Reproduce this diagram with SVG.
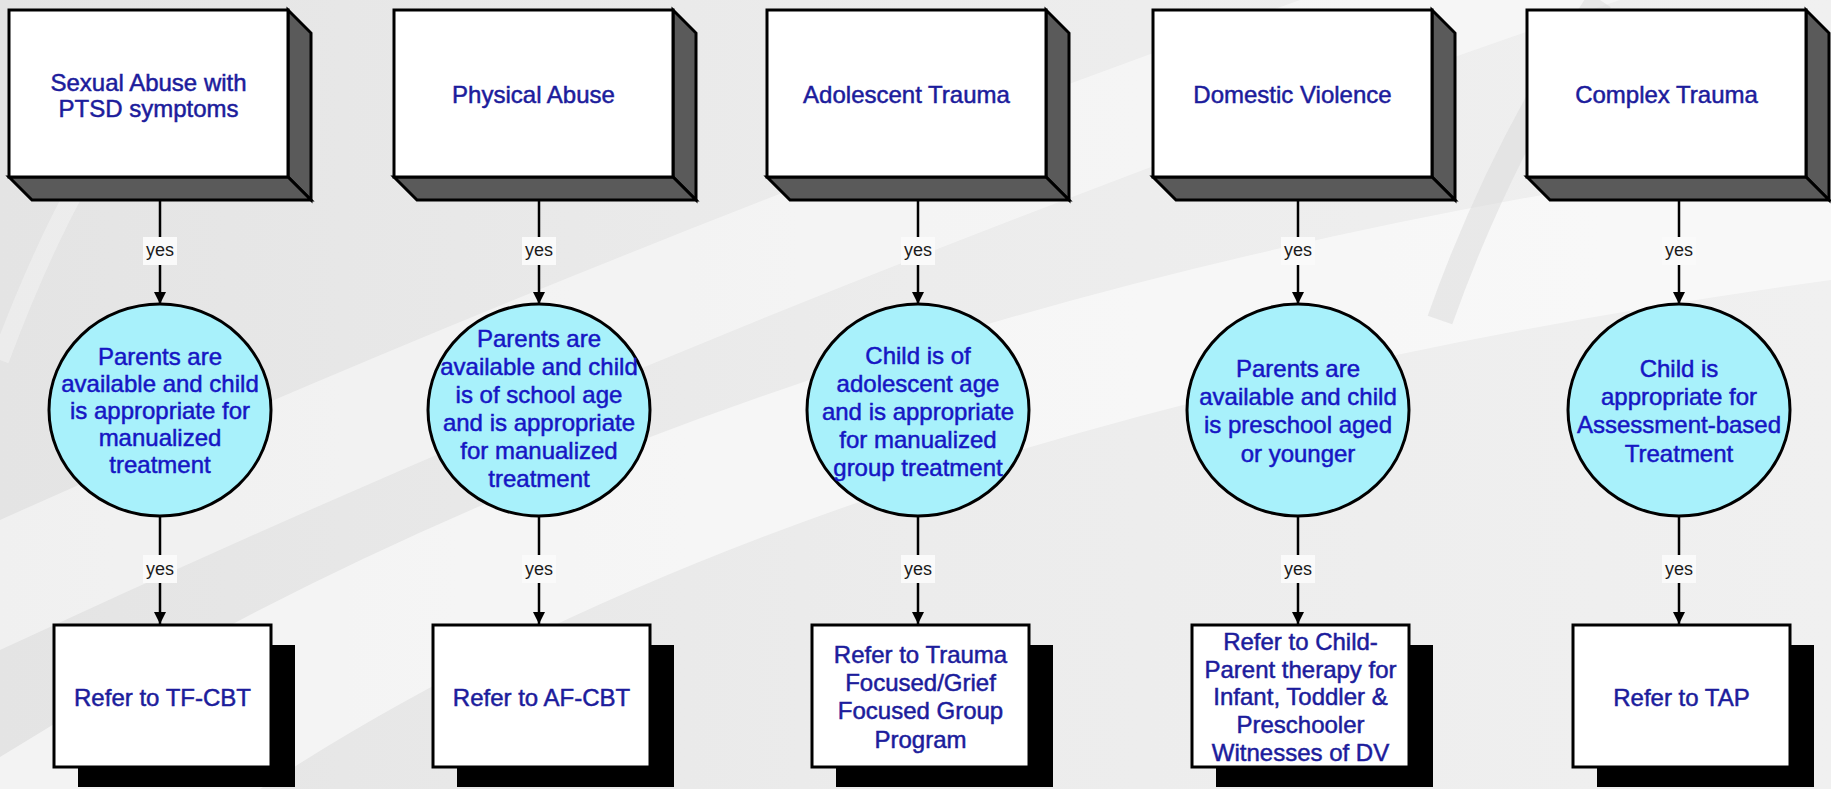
<svg xmlns="http://www.w3.org/2000/svg" width="1831" height="789" viewBox="0 0 1831 789">
<style>
.front{fill:#fff;stroke:#000;stroke-width:3}
.ext{fill:#5a5a5a;stroke:#000;stroke-width:3;stroke-linejoin:miter}
.dec{fill:#a8f1fb;stroke:#000;stroke-width:3}
.shadow{fill:#000}
.ref{fill:#fff;stroke:#000;stroke-width:3}
.t{font-family:"Liberation Sans",Arial,sans-serif;font-size:24px;text-anchor:middle;stroke-width:0.5}
.tb{fill:#1c1c9c;stroke:#1c1c9c}
.tc{fill:#1616c4;stroke:#1616c4}
.lbl{font-family:"Liberation Sans",Arial,sans-serif;font-size:18px;fill:#1a1a1a;text-anchor:middle}
.lblbg{fill:#fafafa}
.conn{stroke:#000;stroke-width:2.5;fill:none;marker-end:url(#arr)}
</style>
<defs>
<marker id="arr" viewBox="0 0 12 12" refX="12" refY="6" markerWidth="12" markerHeight="12" markerUnits="userSpaceOnUse" orient="auto">
<path d="M0,0 L12,6 L0,12 Z" fill="#000"/>
</marker>
<linearGradient id="bg" x1="0" y1="0" x2="1" y2="0">
<stop offset="0" stop-color="#e4e4e4"/>
<stop offset="0.5" stop-color="#ececec"/>
<stop offset="1" stop-color="#f0f0f0"/>
</linearGradient>
</defs>

<g id="background">
<rect x="0" y="0" width="1831" height="789" fill="url(#bg)"/>
<path d="M-50,789 Q700,300 1831,150 L1831,280 Q820,420 260,789 Z" fill="#fff" opacity="0.55"/>
<path d="M0,520 Q600,250 1300,0 L1620,0 Q820,270 0,650 Z" fill="#fff" opacity="0.45"/>
<path d="M1600,0 Q1500,150 1440,320" fill="none" stroke="#dadada" stroke-width="26" opacity="0.5"/>
<path d="M0,360 Q60,200 120,120" fill="none" stroke="#f6f6f6" stroke-width="18" opacity="0.45"/>
</g>

<g id="connectors">
<path class="conn" d="M160,201 V304"/>
<path class="conn" d="M160,516 V624"/>
<path class="conn" d="M539,201 V304"/>
<path class="conn" d="M539,516 V624"/>
<path class="conn" d="M918,201 V304"/>
<path class="conn" d="M918,516 V624"/>
<path class="conn" d="M1298,201 V304"/>
<path class="conn" d="M1298,516 V624"/>
<path class="conn" d="M1679,201 V304"/>
<path class="conn" d="M1679,516 V624"/>
<g id="labels">
<rect class="lblbg" x="143" y="237" width="34" height="28"/><text class="lbl" x="160" y="256">yes</text>
<rect class="lblbg" x="143" y="555" width="34" height="28"/><text class="lbl" x="160" y="575">yes</text>
<rect class="lblbg" x="522" y="237" width="34" height="28"/><text class="lbl" x="539" y="256">yes</text>
<rect class="lblbg" x="522" y="555" width="34" height="28"/><text class="lbl" x="539" y="575">yes</text>
<rect class="lblbg" x="901" y="237" width="34" height="28"/><text class="lbl" x="918" y="256">yes</text>
<rect class="lblbg" x="901" y="555" width="34" height="28"/><text class="lbl" x="918" y="575">yes</text>
<rect class="lblbg" x="1281" y="237" width="34" height="28"/><text class="lbl" x="1298" y="256">yes</text>
<rect class="lblbg" x="1281" y="555" width="34" height="28"/><text class="lbl" x="1298" y="575">yes</text>
<rect class="lblbg" x="1662" y="237" width="34" height="28"/><text class="lbl" x="1679" y="256">yes</text>
<rect class="lblbg" x="1662" y="555" width="34" height="28"/><text class="lbl" x="1679" y="575">yes</text>
</g>
</g>

<!-- Column 1 -->
<g id="box-sexual-abuse">
<polygon class="ext" points="288,10 311,33 311,200 288,177"/>
<polygon class="ext" points="9,177 288,177 311,200 32,200"/>
<rect class="front" x="9" y="10" width="279" height="167"/>
<text class="t tb" x="148.5" y="90.5">Sexual Abuse with</text>
<text class="t tb" x="148.5" y="116.5">PTSD symptoms</text>
</g>
<g id="dec-1">
<ellipse class="dec" cx="160" cy="410" rx="111" ry="106"/>
<text class="t tc" x="160" y="364.5">Parents are</text>
<text class="t tc" x="160" y="391.5">available and child</text>
<text class="t tc" x="160" y="418.5">is appropriate for</text>
<text class="t tc" x="160" y="445.5">manualized</text>
<text class="t tc" x="160" y="472.5">treatment</text>
</g>
<g id="ref-tfcbt">
<rect class="shadow" x="78" y="645" width="217" height="142"/>
<rect class="ref" x="54" y="625" width="217" height="142"/>
<text class="t tb" x="162.5" y="705.5">Refer to TF-CBT</text>
</g>

<!-- Column 2 -->
<g id="box-physical-abuse">
<polygon class="ext" points="673,10 696,33 696,200 673,177"/>
<polygon class="ext" points="394,177 673,177 696,200 417,200"/>
<rect class="front" x="394" y="10" width="279" height="167"/>
<text class="t tb" x="533.5" y="102.5">Physical Abuse</text>
</g>
<g id="dec-2">
<ellipse class="dec" cx="539" cy="410" rx="111" ry="106"/>
<text class="t tc" x="539" y="346.5">Parents are</text>
<text class="t tc" x="539" y="374.5">available and child</text>
<text class="t tc" x="539" y="402.5">is of school age</text>
<text class="t tc" x="539" y="430.5">and is appropriate</text>
<text class="t tc" x="539" y="458.5">for manualized</text>
<text class="t tc" x="539" y="486.5">treatment</text>
</g>
<g id="ref-afcbt">
<rect class="shadow" x="457" y="645" width="217" height="142"/>
<rect class="ref" x="433" y="625" width="217" height="142"/>
<text class="t tb" x="541.5" y="705.5">Refer to AF-CBT</text>
</g>

<!-- Column 3 -->
<g id="box-adolescent-trauma">
<polygon class="ext" points="1046,10 1069,33 1069,200 1046,177"/>
<polygon class="ext" points="767,177 1046,177 1069,200 790,200"/>
<rect class="front" x="767" y="10" width="279" height="167"/>
<text class="t tb" x="906.5" y="102.5">Adolescent Trauma</text>
</g>
<g id="dec-3">
<ellipse class="dec" cx="918" cy="410" rx="111" ry="106"/>
<text class="t tc" x="918" y="363.5">Child is of</text>
<text class="t tc" x="918" y="391.5">adolescent age</text>
<text class="t tc" x="918" y="419.5">and is appropriate</text>
<text class="t tc" x="918" y="447.5">for manualized</text>
<text class="t tc" x="918" y="475.5">group treatment</text>
</g>
<g id="ref-group">
<rect class="shadow" x="836" y="645" width="217" height="142"/>
<rect class="ref" x="812" y="625" width="217" height="142"/>
<text class="t tb" x="920.5" y="662.5">Refer to Trauma</text>
<text class="t tb" x="920.5" y="691">Focused/Grief</text>
<text class="t tb" x="920.5" y="719">Focused Group</text>
<text class="t tb" x="920.5" y="747.5">Program</text>
</g>

<!-- Column 4 -->
<g id="box-domestic-violence">
<polygon class="ext" points="1432,10 1455,33 1455,200 1432,177"/>
<polygon class="ext" points="1153,177 1432,177 1455,200 1176,200"/>
<rect class="front" x="1153" y="10" width="279" height="167"/>
<text class="t tb" x="1292.5" y="102.5">Domestic Violence</text>
</g>
<g id="dec-4">
<ellipse class="dec" cx="1298" cy="410" rx="111" ry="106"/>
<text class="t tc" x="1298" y="376.5">Parents are</text>
<text class="t tc" x="1298" y="405">available and child</text>
<text class="t tc" x="1298" y="433">is preschool aged</text>
<text class="t tc" x="1298" y="461.5">or younger</text>
</g>
<g id="ref-cpp">
<rect class="shadow" x="1216" y="645" width="217" height="142"/>
<rect class="ref" x="1192" y="625" width="217" height="142"/>
<text class="t tb" x="1300.5" y="649.5">Refer to Child-</text>
<text class="t tb" x="1300.5" y="677.5">Parent therapy for</text>
<text class="t tb" x="1300.5" y="705">Infant, Toddler &amp;</text>
<text class="t tb" x="1300.5" y="733">Preschooler</text>
<text class="t tb" x="1300.5" y="760.5">Witnesses of DV</text>
</g>

<!-- Column 5 -->
<g id="box-complex-trauma">
<polygon class="ext" points="1806,10 1829,33 1829,200 1806,177"/>
<polygon class="ext" points="1527,177 1806,177 1829,200 1550,200"/>
<rect class="front" x="1527" y="10" width="279" height="167"/>
<text class="t tb" x="1666.5" y="102.5">Complex Trauma</text>
</g>
<g id="dec-5">
<ellipse class="dec" cx="1679" cy="410" rx="111" ry="106"/>
<text class="t tc" x="1679" y="376.5">Child is</text>
<text class="t tc" x="1679" y="405">appropriate for</text>
<text class="t tc" x="1679" y="433">Assessment-based</text>
<text class="t tc" x="1679" y="461.5">Treatment</text>
</g>
<g id="ref-tap">
<rect class="shadow" x="1597" y="645" width="217" height="142"/>
<rect class="ref" x="1573" y="625" width="217" height="142"/>
<text class="t tb" x="1681.5" y="705.5">Refer to TAP</text>
</g>
</svg>
